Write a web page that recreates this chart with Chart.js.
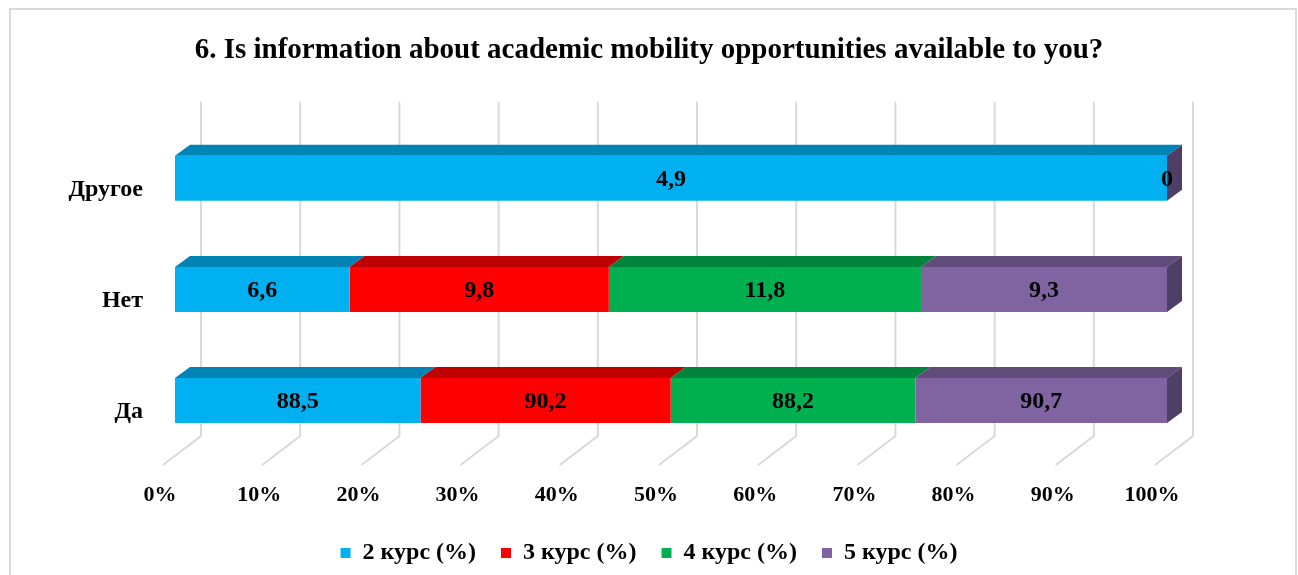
<!DOCTYPE html>
<html>
<head>
<meta charset="utf-8">
<script src="https://cdn.jsdelivr.net/npm/chart.js@4.4.1/dist/chart.umd.min.js"></script>
<style>
  body { margin: 0; background: #fff; }
  #wrap { width: 1298px; height: 575px; }
</style>
</head>
<body>
<div id="wrap"><canvas id="chart"></canvas></div>
<script>
// categories (top to bottom) and raw answers per course
const categories = ["Другое", "Нет", "Да"];
const seriesNames = ["2 курс (%)", "3 курс (%)", "4 курс (%)", "5 курс (%)"];
const kurs2 = [4.9, 6.6, 88.5];
const kurs3 = [null, 9.8, 90.2];
const kurs4 = [null, 11.8, 88.2];
const kurs5 = [0, 9.3, 90.7];
const xTicks = [0, 10, 20, 30, 40, 50, 60, 70, 80, 90, 100];

const frontColors = ["#00B0F0", "#FF0000", "#00B050", "#8064A2"];
const topColors = ["#0084B4", "#BF0000", "#00843C", "#604B7A"];
const sideColors = ["#006C94", "#9C0000", "#006C31", "#4F3E66"];

const FONT = "'Liberation Serif', 'Times New Roman', serif";
const DX = 15, DY = 11;   // bar depth

const raw = [kurs2, kurs3, kurs4, kurs5];
// 100% stacked: share of each course inside a row
const rowSums = categories.map((c, i) => raw.reduce((s, arr) => s + (arr[i] || 0), 0));
const datasets = raw.map((arr, k) => ({
    label: seriesNames[k],
    data: arr.map((v, i) => v === null ? null : v / rowSums[i] * 100),
    rawValues: arr,
    backgroundColor: frontColors[k],
    borderWidth: 0,
    barPercentage: 0.81,
    categoryPercentage: 0.5
}));

// frame, back wall grid and floor lines, 3d faces, value labels
const grid3d = {
    id: "grid3d",
    beforeDraw(chart) {
        const ctx = chart.ctx;
        ctx.save();
        ctx.strokeStyle = "#d9d9d9";
        ctx.lineWidth = 2;
        ctx.strokeRect(10, 9, 1286, 600);
        ctx.restore();
    },
    beforeDatasetsDraw(chart) {
        const ctx = chart.ctx, xs = chart.scales.x, area = chart.chartArea;
        ctx.save();
        ctx.strokeStyle = "#d9d9d9";
        ctx.lineWidth = 2;
        xTicks.forEach(v => {
            const x = xs.getPixelForValue(v);
            ctx.beginPath();
            ctx.moveTo(x + 26, area.top - 21);
            ctx.lineTo(x + 26, area.bottom - 20);
            ctx.lineTo(x - 12, area.bottom + 9);
            ctx.stroke();
        });
        ctx.restore();
    },
    afterDatasetsDraw(chart) {
        const ctx = chart.ctx;
        ctx.save();
        // top faces
        chart.data.datasets.forEach((ds, k) => {
            chart.getDatasetMeta(k).data.forEach((bar, i) => {
                if (ds.data[i] === null) return;
                const x0 = Math.min(bar.base, bar.x), x1 = Math.max(bar.base, bar.x);
                const top = bar.y - bar.height / 2;
                ctx.fillStyle = topColors[k];
                ctx.beginPath();
                ctx.moveTo(x0, top);
                ctx.lineTo(x1, top);
                ctx.lineTo(x1 + DX, top - DY);
                ctx.lineTo(x0 + DX, top - DY);
                ctx.closePath();
                ctx.fill();
            });
        });
        // side face on the last segment of each row
        categories.forEach((c, i) => {
            let last = -1;
            chart.data.datasets.forEach((ds, k) => { if (ds.data[i] !== null) last = k; });
            const bar = chart.getDatasetMeta(last).data[i];
            const x1 = Math.max(bar.base, bar.x);
            const top = bar.y - bar.height / 2, bottom = bar.y + bar.height / 2;
            ctx.fillStyle = sideColors[last];
            ctx.beginPath();
            ctx.moveTo(x1, top);
            ctx.lineTo(x1 + DX, top - DY);
            ctx.lineTo(x1 + DX, bottom - DY);
            ctx.lineTo(x1, bottom);
            ctx.closePath();
            ctx.fill();
        });
        // value labels
        ctx.fillStyle = "#000";
        ctx.font = "bold 24px " + FONT;
        ctx.textAlign = "center";
        ctx.textBaseline = "middle";
        chart.data.datasets.forEach((ds, k) => {
            chart.getDatasetMeta(k).data.forEach((bar, i) => {
                if (ds.data[i] === null) return;
                const p = bar.getCenterPoint();
                ctx.fillText(String(ds.rawValues[i]).replace(".", ","), p.x, p.y + 1);
            });
        });
        ctx.restore();
    }
};

new Chart(document.getElementById("chart"), {
    type: "bar",
    data: { labels: categories, datasets: datasets },
    options: {
        indexAxis: "y",
        responsive: true,
        maintainAspectRatio: false,
        animation: false,
        layout: { padding: { left: 0, right: 0, top: 0, bottom: 0 } },
        scales: {
            x: {
                stacked: true,
                min: 0,
                max: 100,
                grid: { display: false, drawTicks: false },
                border: { display: false },
                afterBuildTicks: s => { s.ticks = xTicks.map(v => ({ value: v })); },
                afterFit: s => { s.height = 60; },
                ticks: {
                    callback: v => v + "%",
                    labelOffset: -15,
                    padding: 26,
                    color: "#000",
                    font: { family: FONT, size: 22, weight: "bold" }
                }
            },
            y: {
                stacked: true,
                grid: { display: false, drawTicks: false },
                border: { display: false },
                afterFit: s => { s.width = 175; },
                ticks: {
                    labelOffset: 11,
                    padding: 32,
                    color: "#000",
                    font: { family: FONT, size: 24, weight: "bold" }
                }
            },
            // empty right margin so title and legend stay centred on the page
            spacer: {
                type: "linear",
                axis: "y",
                position: "right",
                grid: { display: false, drawTicks: false },
                border: { display: false },
                ticks: { display: false },
                afterFit: s => { s.width = 131; }
            }
        },
        plugins: {
            title: {
                display: true,
                text: "6. Is information about academic mobility opportunities available to you?",
                color: "#000",
                font: { family: FONT, size: 29, weight: "bold" },
                padding: { top: 33, bottom: 55 }
            },
            legend: {
                position: "bottom",
                labels: {
                    boxWidth: 10,
                    boxHeight: 10,
                    padding: 25,
                    color: "#000",
                    font: { family: FONT, size: 24, weight: "bold" }
                }
            },
            tooltip: { enabled: false }
        }
    },
    plugins: [grid3d]
});
</script>
</body>
</html>
